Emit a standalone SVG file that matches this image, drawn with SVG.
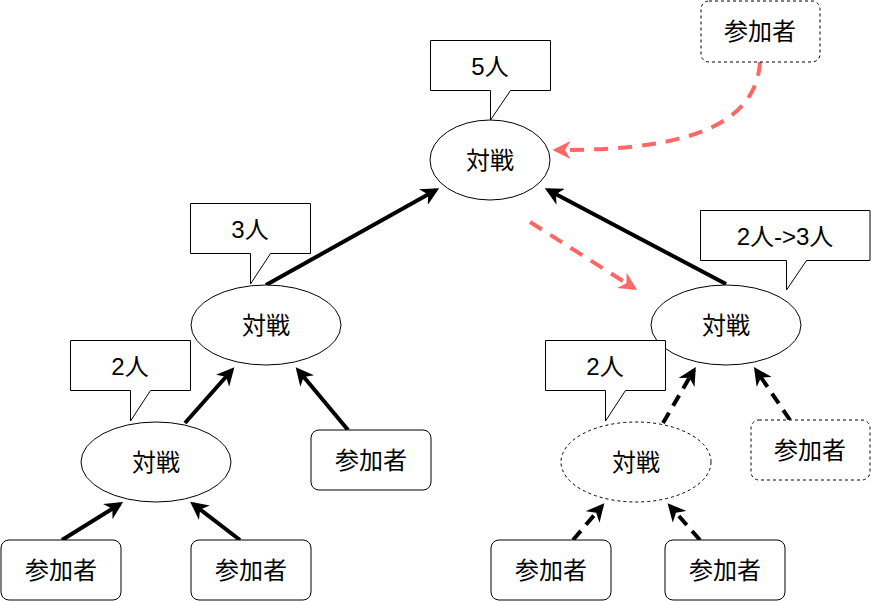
<svg xmlns="http://www.w3.org/2000/svg" width="871" height="601" viewBox="0 0 871 601">
<style>
text{font-family:"Liberation Sans","Noto Sans CJK JP",sans-serif;font-size:24px;text-anchor:middle;dominant-baseline:central;fill:#000}
.n{fill:#fff;stroke:#000;stroke-width:1}
.d{stroke-dasharray:3 3}
.a{stroke:#000;stroke-width:4;fill:none;marker-end:url(#ab)}
.ad{stroke-dasharray:12 8}
.r{stroke:#ff6666;stroke-width:4;fill:none;stroke-dasharray:14 10;marker-end:url(#ar)}
</style>
<defs>
<marker id="ab" viewBox="0 0 10 10" refX="8" refY="5" markerWidth="4.5" markerHeight="4.5" orient="auto" markerUnits="strokeWidth"><path d="M0,0L10,5L0,10L3,5Z" fill="#000"/></marker>
<marker id="ar" viewBox="0 0 10 10" refX="8" refY="5" markerWidth="4.5" markerHeight="4.5" orient="auto" markerUnits="strokeWidth"><path d="M0,0L10,5L0,10L3,5Z" fill="#ff6666"/></marker>
</defs>
<g id="connectors">
<path class="a" d="M266,285L436,190"/>
<path class="a" d="M726,284L548,190"/>
<path class="a" d="M185,423L232,370"/>
<path class="a" d="M348,430L298,370"/>
<path class="a" d="M62,540L120,504"/>
<path class="a" d="M240,540L193,504"/>
<path class="a ad" d="M663,423L694,370"/>
<path class="a ad" d="M790,420L756,370"/>
<path class="a ad" d="M573,540L602,506"/>
<path class="a ad" d="M700,540L670,506"/>
<path class="r" d="M760,62C755,140 650,150 556,150"/>
<path class="r" d="M530,222L634,288"/>
</g>
<g id="p_top"><rect class="n d" x="701" y="1" width="119" height="61" rx="8"/><text x="760" y="31">参加者</text></g>
<g id="c5"><path class="n" d="M430.5,40.5H550.5V90.5H510.5L490.5,120V90.5H430.5Z"/><text x="490" y="66">5人</text></g>
<g id="e_top"><ellipse class="n" cx="490" cy="160" rx="60" ry="40"/><text x="490" y="160">対戦</text></g>
<g id="c3"><path class="n" d="M190.5,203.5H310.5V253.5H270.5L250.5,284V253.5H190.5Z"/><text x="250" y="229">3人</text></g>
<g id="e_ml"><ellipse class="n" cx="266" cy="325" rx="75" ry="40"/><text x="266" y="325">対戦</text></g>
<g id="c2l"><path class="n" d="M70.5,340.5H190.5V390.5H150.5L130.5,421V390.5H70.5Z"/><text x="130" y="366">2人</text></g>
<g id="e_ll"><ellipse class="n" cx="156" cy="462" rx="75" ry="40"/><text x="156" y="462">対戦</text></g>
<g id="p_ml"><rect class="n" x="311" y="430" width="120" height="60" rx="8"/><text x="371" y="460">参加者</text></g>
<g id="p_b1"><rect class="n" x="1" y="540" width="120" height="60" rx="8"/><text x="61" y="570">参加者</text></g>
<g id="p_b2"><rect class="n" x="191" y="540" width="120" height="60" rx="8"/><text x="251" y="570">参加者</text></g>
<g id="c23"><path class="n" d="M700.5,210.5H870V260.5H806.5L786.5,290V260.5H700.5Z"/><text x="785" y="236">2人-&gt;3人</text></g>
<g id="e_mr"><ellipse class="n" cx="726" cy="325" rx="75" ry="40"/><text x="726" y="325">対戦</text></g>
<g id="c2r"><path class="n" d="M545.5,340.5H665.5V390.5H625.5L605.5,421V390.5H545.5Z"/><text x="605" y="366">2人</text></g>
<g id="e_lr"><ellipse class="n d" cx="636" cy="462" rx="75" ry="40"/><text x="636" y="462">対戦</text></g>
<g id="p_mr"><rect class="n d" x="751" y="420" width="119" height="60" rx="8"/><text x="810" y="450">参加者</text></g>
<g id="p_b3"><rect class="n" x="491" y="540" width="120" height="60" rx="8"/><text x="551" y="570">参加者</text></g>
<g id="p_b4"><rect class="n" x="665" y="540" width="120" height="60" rx="8"/><text x="725" y="570">参加者</text></g>
</svg>
